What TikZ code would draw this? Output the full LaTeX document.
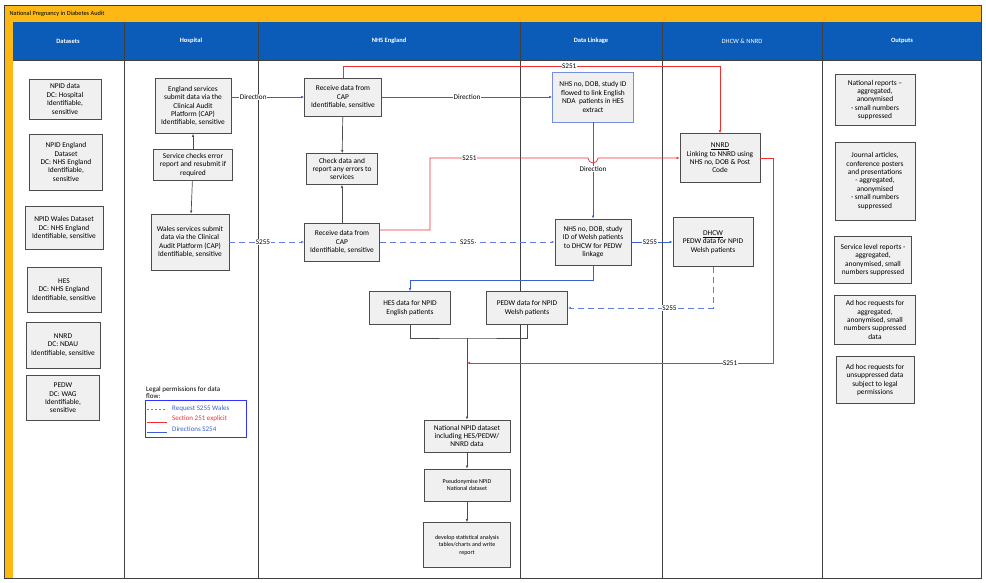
\documentclass[tikz,border=0pt]{standalone}
\usepackage{fontspec}
\setmainfont{Carlito}
\usetikzlibrary{arrows.meta}
\definecolor{titleyel}{HTML}{FDB813}
\definecolor{headblue}{HTML}{0A5CB8}
\definecolor{flowblue}{HTML}{3A5FD0}
\definecolor{flowred}{HTML}{F03030}
\tikzset{
  box/.style={draw=black!70, fill=black!6, line width=0.7pt, align=center, font=\fontsize{7.4}{8.4}\selectfont, inner sep=1pt},
  head/.style={text=white, font=\fontsize{6.5}{7}\selectfont\bfseries},
  lbl/.style={fill=white, text=black, inner sep=0.5pt, font=\fontsize{7.2}{8}\selectfont},
  dir/.style={flowblue, line width=0.7pt, -{Latex[length=3pt,width=2.5pt]}},
  req/.style={flowblue!80, line width=0.7pt, dash pattern=on 6pt off 4pt, -{Latex[length=3pt,width=2.5pt]}},
  sec/.style={flowred, line width=0.7pt, -{Latex[length=3pt,width=2.5pt]}},
  flow/.style={black!70, line width=0.7pt, -{Latex[length=3pt,width=2.5pt]}}
}
\begin{document}
\begin{tikzpicture}[x=1pt,y=-1pt]
  \useasboundingbox (0,0) rectangle (986,583);

  % Rahmen und Spalten
  \fill[titleyel] (4,5) rectangle (981,22);
  \fill[titleyel] (4,22) rectangle (13,578);
  \fill[headblue] (13,22) rectangle (981,60);
  \node[anchor=west, font=\fontsize{6.3}{7}\selectfont] (title) at (6,13.5) {National Pregnancy in Diabetes Audit};
  \foreach \x in {124,258,520,662,822}
    \draw[black!75, line width=0.8pt] (\x,22) -- (\x,578);
  \draw[black!75, line width=0.8pt] (4,5) rectangle (981,578);
  \draw[black!75, line width=0.8pt] (13,60) -- (981,60);
  \node[head] (h1) at (68,41) {Datasets};
  \node[head] (h2) at (191,41) {Hospital};
  \node[head] (h3) at (389,41) {NHS England};
  \node[head] (h4) at (591,41) {Data Linkage};
  \node[head, font=\fontsize{6.5}{7}\selectfont] (h5) at (742,41) {DHCW \& NNRD};
  \node[head] (h6) at (902,41) {Outputs};

  % Datasets
  \node[box, minimum width=72pt, minimum height=40pt] (npid) at (65,99) {NPID data\\DC: Hospital\\Identifiable,\\sensitive};
  \node[box, minimum width=73pt, minimum height=56pt] (npideng) at (66,162) {NPID England\\Dataset\\DC: NHS England\\Identifiable,\\sensitive};
  \node[box, minimum width=78pt, minimum height=43pt] (npidwal) at (64,228) {NPID Wales Dataset\\DC: NHS England\\Identifiable, sensitive};
  \node[box, minimum width=74pt, minimum height=45pt] (hes) at (64,290) {HES\\DC: NHS England\\Identifiable, sensitive};
  \node[box, minimum width=74pt, minimum height=46pt] (nnrd) at (63,345) {NNRD\\DC: NDAU\\Identifiable, sensitive};
  \node[box, minimum width=73pt, minimum height=45pt] (pedw) at (63,398) {PEDW\\DC: WAG\\Identifiable,\\sensitive};

  % Hospital
  \node[box, minimum width=76pt, minimum height=55pt] (engsub) at (193,106) {England services\\submit data via the\\Clinical Audit\\Platform (CAP)\\Identifiable, sensitive};
  \node[box, minimum width=79pt, minimum height=31pt] (check) at (193,165) {Service checks error\\report and resubmit if\\required};
  \node[box, minimum width=78pt, minimum height=56pt] (walsub) at (190,242) {Wales services submit\\data via the Clinical\\Audit Platform (CAP)\\Identifiable, sensitive};

  % NHS England
  \node[box, minimum width=77pt, minimum height=38pt] (recv1) at (343,97) {Receive data from\\CAP\\Identifiable, sensitive};
  \node[box, minimum width=71pt, minimum height=31pt] (chk) at (342,169) {Check data and\\report any errors to\\services};
  \node[box, minimum width=75pt, minimum height=38pt] (recv2) at (342,242) {Receive data from\\CAP\\Identifiable, sensitive};
  \node[box, minimum width=81pt, minimum height=33pt] (hesnpid) at (410,308) {HES data for NPID\\English patients};
  \node[box, minimum width=81pt, minimum height=33pt] (pedwnpid) at (527,308) {PEDW data for NPID\\Welsh patients};
  \node[box, minimum width=86pt, minimum height=32pt] (natl) at (467,436) {National NPID dataset\\including HES/PEDW/\\NNRD data};
  \node[box, minimum width=86pt, minimum height=32pt, font=\fontsize{6}{7.4}\selectfont] (pseudo) at (467,485) {Pseudonymise NPID\\National dataset};
  \node[box, minimum width=87pt, minimum height=45pt, font=\fontsize{6}{7.4}\selectfont] (dev) at (467,545) {develop statistical analysis\\tables/charts and write\\report};

  % Data Linkage
  \node[box, draw=flowblue!70, minimum width=81pt, minimum height=50pt] (linkeng) at (593,97) {NHS no, DOB, study ID\\flowed to link English\\NDA\ \ patients in HES\\extract};
  \node[box, minimum width=76pt, minimum height=46pt] (linkwal) at (593,242) {NHS no, DOB, study\\ID of Welsh patients\\to DHCW for PEDW\\linkage};

  % DHCW & NNRD
  \node[box, minimum width=80pt, minimum height=49pt] (nnrdlink) at (720,158) {\underline{NNRD}\\Linking to NNRD using\\NHS no, DOB \& Post\\Code};
  \node[box, minimum width=80pt, minimum height=49pt] (dhcw) at (713,242) {\underline{DHCW}\\PEDW data for NPID\\Welsh patients};

  % Outputs
  \node[box, minimum width=80pt, minimum height=51pt] (o1) at (875,100) {National reports --\\aggregated,\\anonymised\\- small numbers\\suppressed};
  \node[box, minimum width=80pt, minimum height=78pt] (o2) at (875,181) {Journal articles,\\conference posters\\and presentations\\- aggregated,\\anonymised\\- small numbers\\suppressed};
  \node[box, minimum width=77pt, minimum height=47pt] (o3) at (873,260) {Service level reports -\\aggregated,\\anonymised, small\\numbers suppressed};
  \node[box, minimum width=81pt, minimum height=49pt] (o4) at (875,320) {Ad hoc requests for\\aggregated,\\anonymised, small\\numbers suppressed\\data};
  \node[box, minimum width=78pt, minimum height=47pt] (o5) at (875,380) {Ad hoc requests for\\unsuppressed data\\subject to legal\\permissions};

  % Legende
  \node[anchor=north west, align=left, inner sep=0pt, font=\fontsize{7}{7}\selectfont] (legtitle) at (146,386) {Legal permissions for data\\flow:};
  \draw[blue!80, line width=0.7pt] (145,400) rectangle (246,437);
  \coordinate (l1a) at (147,409); \coordinate (l1b) at (167,409);
  \coordinate (l2a) at (147,422); \coordinate (l2b) at (167,422);
  \coordinate (l3a) at (147,432); \coordinate (l3b) at (167,432);
  \draw[flowblue!80, dash pattern=on 2pt off 2pt] (l1a) -- (l1b);
  \draw[flowred] (l2a) -- (l2b);
  \draw[flowblue] (l3a) -- (l3b);
  \node[anchor=west, inner sep=0pt, text=flowblue, font=\fontsize{7}{8}\selectfont] (leg1) at (172,409) {Request S255 Wales};
  \node[anchor=west, inner sep=0pt, text=flowred, font=\fontsize{7}{8}\selectfont] (leg2) at (172,419) {Section 251 explicit};
  \node[anchor=west, inner sep=0pt, text=flowblue, font=\fontsize{7}{8}\selectfont] (leg3) at (172,429) {Directions S254};

  % Hospital Pfeile
  \draw[flow] (check) -- (engsub);
  \draw[flow] (check) -- (walsub);
  \draw[dir] (engsub.east |- recv1) -- node[lbl, pos=0.3] {Direction} (recv1);
  \draw[req] (walsub) -- node[lbl, pos=0.45] {S255} (recv2);

  % NHS England Pfeile
  \draw[flow] (recv1) -- (chk);
  \draw[flow] (recv2) -- (chk);
  \draw[dir] (recv1) -- node[lbl, pos=0.5] {Direction} (linkeng.west |- recv1);
  \draw[req] (recv2) -- node[lbl, pos=0.5] {S255} (linkwal);
  \draw[dir] (linkeng) -- node[lbl, pos=0.48] {Direction} (linkwal);
  \draw[dir] (linkwal) -- node[lbl, pos=0.45] {S255} (dhcw);

  % S251
  \draw[sec] (recv1.north) -- ++(0,-11) -| node[lbl, pos=0.3] {S251} (nnrdlink.north);
  \draw[sec] (recv2.east |- 0,230) -- (430,230) -- (430,158) -- node[lbl, pos=0.25] {S251} (588,158)
    arc[start angle=180, end angle=0, radius=5] -- (nnrdlink.west);
  \draw[sec] (nnrdlink.east) -- (773,158) -- (773,363) -- node[lbl, pos=0.14] {S251} (natl.north |- 0,363);

  % Zusammenfuehrung
  \draw[dir] (linkwal.south) -- (593,280) -| (hesnpid.north);
  \draw[req] (dhcw.south) -- (713,308) -- node[lbl, pos=0.3] {S255} (pedwnpid.east);
  \draw[black!70, line width=0.7pt] (hesnpid.south) |- (467,338) -| (pedwnpid.south);
  \draw[flow] (467,338) -- (natl);
  \draw[flow] (natl) -- (pseudo);
  \draw[flow] (pseudo) -- (dev);
\end{tikzpicture}
\end{document}
